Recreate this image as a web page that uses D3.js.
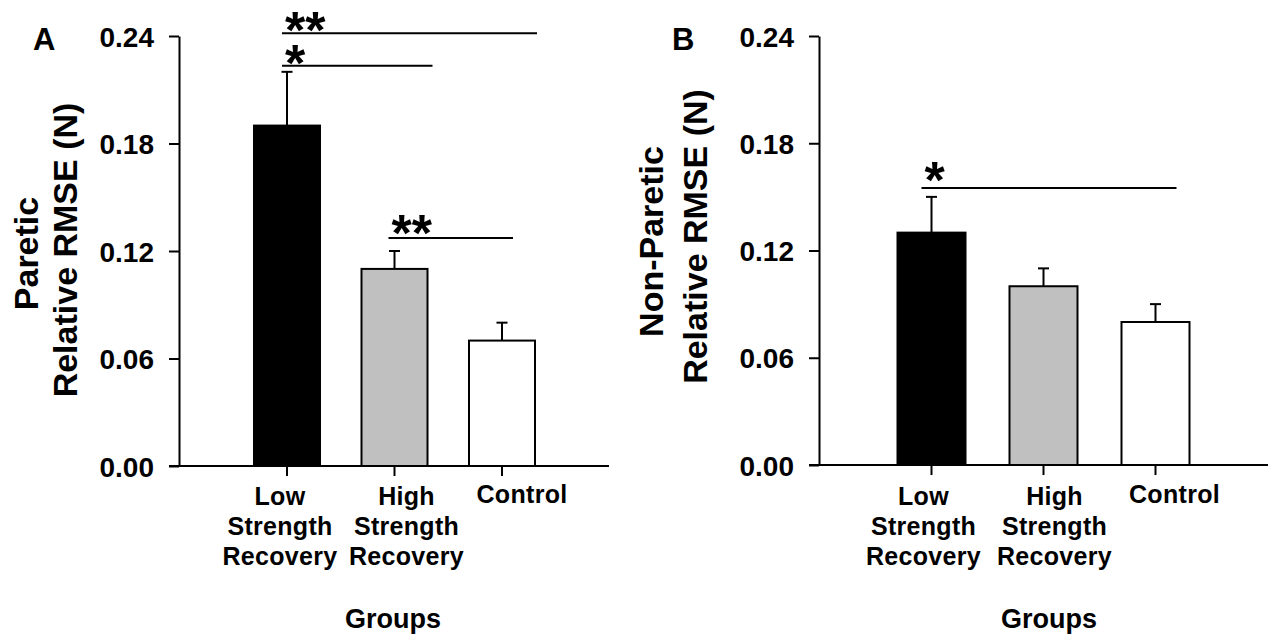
<!DOCTYPE html>
<html>
<head>
<meta charset="utf-8">
<script src="https://cdn.jsdelivr.net/npm/d3@7"></script>
<style>
  body { margin: 0; background: #fff; }
  svg text { font-family: "Liberation Sans", Arial, sans-serif; font-weight: bold; fill: #000; }
</style>
</head>
<body>
<div id="chart-container"></div>
<script>
// group names (each split into label lines)
const groups = ["Low Strength Recovery", "High Strength Recovery", "Control"];
const groupLines = [["Low", "Strength", "Recovery"], ["High", "Strength", "Recovery"], ["Control"]];
const yTicks = [0, 0.06, 0.12, 0.18, 0.24];

// panel A: paretic
const pareticMean = [0.19, 0.11, 0.07];
const pareticErr = [0.03, 0.01, 0.01];
// panel B: non-paretic
const nonPareticMean = [0.13, 0.10, 0.08];
const nonPareticErr = [0.02, 0.01, 0.01];

// significance comparisons: [from, to, bar level, stars]
const pareticSig = [[0, 2, 0.2415, "**"], [0, 1, 0.2234, "*"], [1, 2, 0.1273, "**"]];
const nonPareticSig = [[0, 2, 0.1550, "*"]];

const barColors = ["#000000", "#c0c0c0", "#ffffff"];

const width = 1272;
const height = 636;

const svg = d3.select("#chart-container")
    .append("svg")
        .attr("width", width)
        .attr("height", height);

// layout for each panel (sigPad = [line start pad, line end pad, star baseline offset])
const panels = [
    {
        letter: "A", letterX: 33, axisX: 179, y0: 466, xRange: [233.25, 555.75], xEnd: 609, barW: 66,
        title: ["Paretic", "Relative RMSE (N)"], titleX: [38, 77], titleY: [253.5, 250],
        groupsX: 393, labelShift: [-7, 12, 20],
        sigPad: [[-5, 35, 14.5], [-5, 38, 15], [-6, 11, 13.5]],
        mean: pareticMean, err: pareticErr, sig: pareticSig
    },
    {
        letter: "B", letterX: 672, axisX: 819, y0: 465, xRange: [875.5, 1211.5], xEnd: 1268, barW: 68,
        title: ["Non-Paretic", "Relative RMSE (N)"], titleX: [663, 707], titleY: [241.5, 236.5],
        groupsX: 1049, labelShift: [-8, 11, 19],
        sigPad: [[-10, 21, 10.5]],
        mean: nonPareticMean, err: nonPareticErr, sig: nonPareticSig
    }
];

panels.forEach(p => {
    const g = svg.append("g");

    const y = d3.scaleLinear()
        .domain([0, 0.24])
        .range([p.y0, 36]);

    const x = d3.scalePoint()
        .domain(groups)
        .range(p.xRange)
        .padding(0.5);

    // y axis
    const yAxis = g.append("g")
        .attr("transform", `translate(${p.axisX},0)`)
        .call(d3.axisLeft(y).tickValues(yTicks).tickFormat(d3.format(".2f")).tickSize(10).tickSizeOuter(0));
    yAxis.select(".domain").attr("stroke-width", 2);
    yAxis.selectAll(".tick line").attr("stroke-width", 2);
    yAxis.selectAll(".tick text")
        .attr("x", -25)
        .attr("dy", "0.36em")
        .attr("font-size", 28);

    // bars
    g.selectAll("rect.bar")
        .data(p.mean)
        .enter()
        .append("rect")
            .attr("class", "bar")
            .attr("x", (d, i) => x(groups[i]) - p.barW / 2)
            .attr("y", d => y(d))
            .attr("width", p.barW)
            .attr("height", d => y(0) - y(d))
            .attr("fill", (d, i) => barColors[i])
            .attr("stroke", "#000")
            .attr("stroke-width", 2);

    // error bars (upper only)
    p.mean.forEach((m, i) => {
        const cx = x(groups[i]);
        g.append("line")
            .attr("x1", cx).attr("x2", cx)
            .attr("y1", y(m)).attr("y2", y(m + p.err[i]))
            .attr("stroke", "#000").attr("stroke-width", 2);
        g.append("line")
            .attr("x1", cx - 5.5).attr("x2", cx + 5.5)
            .attr("y1", y(m + p.err[i])).attr("y2", y(m + p.err[i]))
            .attr("stroke", "#000").attr("stroke-width", 2);
    });

    // x axis line + ticks
    g.append("line")
        .attr("x1", p.axisX - 10).attr("x2", p.xEnd)
        .attr("y1", y(0)).attr("y2", y(0))
        .attr("stroke", "#000").attr("stroke-width", 2);
    g.selectAll("line.xtick")
        .data(groups)
        .enter()
        .append("line")
            .attr("class", "xtick")
            .attr("x1", d => x(d)).attr("x2", d => x(d))
            .attr("y1", y(0)).attr("y2", y(0) + 10)
            .attr("stroke", "#000").attr("stroke-width", 2);

    // category labels
    groupLines.forEach((lines, i) => {
        const t = g.append("text")
            .attr("text-anchor", "middle")
            .attr("font-size", 25)
            .attr("letter-spacing", 0.3);
        lines.forEach((s, j) => {
            t.append("tspan")
                .attr("x", x(groups[i]) + p.labelShift[i])
                .attr("y", (lines.length === 1 ? 503 : 505) + j * 30)
                .text(s);
        });
    });

    // significance bars
    p.sig.forEach((s, k) => {
        const x1 = x(groups[s[0]]) + p.sigPad[k][0];
        const x2 = x(groups[s[1]]) + p.sigPad[k][1];
        g.append("line")
            .attr("x1", x1).attr("x2", x2)
            .attr("y1", y(s[2])).attr("y2", y(s[2]))
            .attr("stroke", "#000").attr("stroke-width", 2);
        g.append("text")
            .attr("x", x1 + 3)
            .attr("y", y(s[2]) + p.sigPad[k][2])
            .attr("font-size", 52)
            .text(s[3]);
    });

    // axis titles
    p.title.forEach((s, j) => {
        g.append("text")
            .attr("transform", `translate(${p.titleX[j]},${p.titleY[j]}) rotate(-90)`)
            .attr("text-anchor", "middle")
            .attr("font-size", 34)
            .text(s);
    });

    g.append("text")
        .attr("x", p.groupsX)
        .attr("y", 628)
        .attr("text-anchor", "middle")
        .attr("font-size", 27)
        .text("Groups");

    g.append("text")
        .attr("x", p.letterX)
        .attr("y", 50)
        .attr("font-size", 31)
        .text(p.letter);
});
</script>
</body>
</html>
